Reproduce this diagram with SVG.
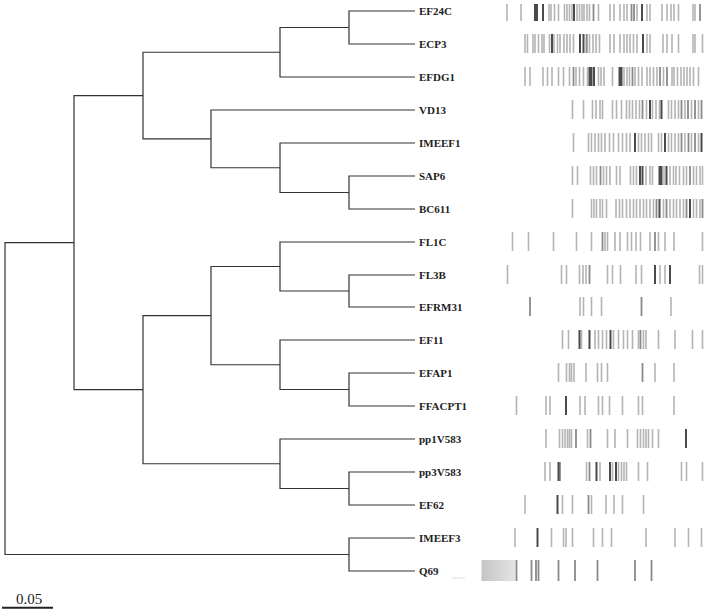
<svg xmlns="http://www.w3.org/2000/svg" width="708" height="611" viewBox="0 0 708 611">
<style>
.t{font-family:"Liberation Serif","Times New Roman",serif;font-weight:bold;font-size:11px;fill:#222}
.e{fill:none;stroke:#333;stroke-width:1.2}
.l{fill:none;stroke:#b4b4b4;stroke-width:1.6}
.m{fill:none;stroke:#8a8a8a;stroke-width:1.8}
.d{fill:none;stroke:#4a4a4a;stroke-width:2}
</style>
<defs>
<linearGradient id="gr" x1="0" x2="1" y1="0" y2="0"><stop offset="0" stop-color="#c4c4c4"/><stop offset="1" stop-color="#e4e4e4"/></linearGradient>
</defs>
<rect width="708" height="611" fill="#fff"/>
<g id="connectors">
<path class="e" d="M415 11H349V44H415"/>
<path class="e" d="M349 27.5H280V77H415"/>
<path class="e" d="M415 176H349V209H415"/>
<path class="e" d="M415 143H280V192.5H349"/>
<path class="e" d="M415 110H211V167.75H280"/>
<path class="e" d="M280 52.25H143V138.9H211"/>
<path class="e" d="M415 275H349V307H415"/>
<path class="e" d="M415 242H280V291H349"/>
<path class="e" d="M415 373H349V406H415"/>
<path class="e" d="M415 340H280V389.5H349"/>
<path class="e" d="M280 266.5H211V364.75H280"/>
<path class="e" d="M415 472H349V505H415"/>
<path class="e" d="M415 439H280V488.5H349"/>
<path class="e" d="M211 315.6H143V463.75H280"/>
<path class="e" d="M143 95.6H74V389.7H143"/>
<path class="e" d="M415 538H349V571H415"/>
<path class="e" d="M74 242.6H5V554.5H349"/>
</g>
<g id="EF24C" transform="translate(0,11)">
<text class="t" x="419" y="4">EF24C</text>
<path class="l" d="M507 -7v17M521 -7v17M549 -7v17M551 -7v17M554.5 -7v17M558.5 -7v17M564.5 -7v17M567 -7v17M569.5 -7v17M572 -7v17M577 -7v17M579.5 -7v17M582 -7v17M584 -7v17M587 -7v17M589.5 -7v17M598.5 -7v17M610 -7v17M614 -7v17M620 -7v17M624 -7v17M627 -7v17M637 -7v17M647 -7v17M650 -7v17M662 -7v17M667 -7v17M671 -7v17M674 -7v17M678.5 -7v17M693 -7v17M695 -7v17"/>
<path class="m" d="M593.5 -7v17M631.5 -7v17M634 -7v17M700 -7v17"/>
<path class="d" d="M535 -7v17M537 -7v17M543 -7v17M574 -7v17M642 -7v17"/>
</g>
<g id="ECP3" transform="translate(0,44)">
<text class="t" x="419" y="4">ECP3</text>
<path class="l" d="M525 -10v19M527.5 -10v19M533 -10v19M535 -10v19M538.5 -10v19M542 -10v19M544 -10v19M549.5 -10v19M554 -10v19M557.5 -10v19M560 -10v19M564 -10v19M567 -10v19M570 -10v19M573.5 -10v19M587 -10v19M589.5 -10v19M593 -10v19M596 -10v19M599.5 -10v19M610 -10v19M614 -10v19M620 -10v19M624 -10v19M627 -10v19M630 -10v19M633.5 -10v19M637 -10v19M647 -10v19M650 -10v19M663 -10v19M667 -10v19M672 -10v19M678.5 -10v19M693 -10v19M695 -10v19M702.5 -10v19"/>
<path class="m" d="M586.5 -10v19"/>
<path class="d" d="M552 -10v19M580 -10v19M583.5 -10v19M643 -10v19"/>
</g>
<g id="EFDG1" transform="translate(0,77)">
<text class="t" x="419" y="4">EFDG1</text>
<path class="l" d="M525 -10v19M530 -10v19M543 -10v19M547.5 -10v19M552 -10v19M558.5 -10v19M563.5 -10v19M569.5 -10v19M576 -10v19M579.5 -10v19M583.5 -10v19M587.5 -10v19M598.5 -10v19M601 -10v19M604 -10v19M612.5 -10v19M624 -10v19M627 -10v19M629.5 -10v19M635 -10v19M638.5 -10v19M642 -10v19M647 -10v19M650 -10v19M653.5 -10v19M657 -10v19M663.5 -10v19M672 -10v19M674 -10v19M677.5 -10v19M681 -10v19M684 -10v19M687 -10v19M690 -10v19M693.5 -10v19M698.5 -10v19"/>
<path class="m" d="M573.5 -10v19M632.5 -10v19M660 -10v19M667 -10v19"/>
<path class="d" d="M589.5 -10v19M591.5 -10v19M594 -10v19M619.5 -10v19M621.5 -10v19"/>
</g>
<g id="VD13" transform="translate(0,110)">
<text class="t" x="419" y="4">VD13</text>
<path class="l" d="M572.5 -10v19M583.5 -10v19M592.5 -10v19M596 -10v19M600 -10v19M602.5 -10v19M612.5 -10v19M616.5 -10v19M621.5 -10v19M626.5 -10v19M629.5 -10v19M632.5 -10v19M636 -10v19M639.5 -10v19M646.5 -10v19M652.5 -10v19M656 -10v19M659.5 -10v19M668.5 -10v19M671.5 -10v19M675 -10v19M678.5 -10v19M685 -10v19M691.5 -10v19M698.5 -10v19"/>
<path class="m" d="M642.5 -10v19M681.5 -10v19M688 -10v19M695 -10v19M701.5 -10v19"/>
<path class="d" d="M650 -10v19M661.5 -10v19"/>
</g>
<g id="IMEEF1" transform="translate(0,143)">
<text class="t" x="419" y="4">IMEEF1</text>
<path class="l" d="M573.5 -10v19M588.5 -10v19M591.5 -10v19M595 -10v19M598.5 -10v19M601.5 -10v19M605 -10v19M609.5 -10v19M613.5 -10v19M618.5 -10v19M622.5 -10v19M626.5 -10v19M630 -10v19M638.5 -10v19M641.5 -10v19M645 -10v19M648.5 -10v19M651.5 -10v19M658.5 -10v19M661.5 -10v19M668.5 -10v19M671.5 -10v19M675 -10v19M678.5 -10v19M685 -10v19M691.5 -10v19M698.5 -10v19"/>
<path class="m" d="M681.5 -10v19M688.5 -10v19M695 -10v19"/>
<path class="d" d="M635 -10v19M665 -10v19M701.5 -10v19"/>
</g>
<g id="SAP6" transform="translate(0,176)">
<text class="t" x="419" y="4">SAP6</text>
<path class="l" d="M572.5 -10v19M577.5 -10v19M590.5 -10v19M593.5 -10v19M596.5 -10v19M603.5 -10v19M606.5 -10v19M610 -10v19M616.5 -10v19M620 -10v19M630.5 -10v19M633.5 -10v19M636.5 -10v19M646 -10v19M650 -10v19M652.5 -10v19M664 -10v19M670 -10v19M673.5 -10v19M676 -10v19M679.5 -10v19M683.5 -10v19M686.5 -10v19M693.5 -10v19M696.5 -10v19M700 -10v19M702.5 -10v19"/>
<path class="m" d="M600.5 -10v19M690 -10v19"/>
<path class="d" d="M640 -10v19M642.5 -10v19M659.5 -10v19M661.5 -10v19M666.5 -10v19"/>
</g>
<g id="BC611" transform="translate(0,209)">
<text class="t" x="419" y="4">BC611</text>
<path class="l" d="M572.5 -10v19M591.5 -10v19M594 -10v19M596.5 -10v19M600 -10v19M602.5 -10v19M606.5 -10v19M616 -10v19M619.5 -10v19M622.5 -10v19M626.5 -10v19M630 -10v19M633.5 -10v19M636.5 -10v19M640 -10v19M643.5 -10v19M646.5 -10v19M650 -10v19M653.5 -10v19M663.5 -10v19M670 -10v19M673.5 -10v19M676.5 -10v19M680 -10v19M683.5 -10v19M693.5 -10v19M696.5 -10v19M700 -10v19"/>
<path class="m" d="M656.5 -10v19M666.5 -10v19M686.5 -10v19M702.5 -10v19"/>
<path class="d" d="M659.5 -10v19M690 -10v19"/>
</g>
<g id="FL1C" transform="translate(0,242)">
<text class="t" x="419" y="4">FL1C</text>
<path class="l" d="M512.5 -10v19M528.5 -10v19M553.5 -10v19M576.5 -10v19M591.5 -10v19M605 -10v19M607.5 -10v19M615 -10v19M620 -10v19M627.5 -10v19M631.5 -10v19M636 -10v19M640.5 -10v19M650 -10v19M658.5 -10v19M665 -10v19M674 -10v19M702.5 -10v19"/>
<path class="m" d="M602.5 -10v19M655 -10v19"/>
</g>
<g id="FL3B" transform="translate(0,275)">
<text class="t" x="419" y="4">FL3B</text>
<path class="l" d="M507.5 -10v19M561.5 -10v19M566.5 -10v19M579.5 -10v19M583 -10v19M586 -10v19M607.5 -10v19M612.5 -10v19M620.5 -10v19M636 -10v19M641.5 -10v19M660 -10v19M665 -10v19M699.5 -10v19M702.5 -10v19"/>
<path class="m" d="M589.5 -10v19"/>
<path class="d" d="M655 -10v19M670 -10v19"/>
</g>
<g id="EFRM31" transform="translate(0,307)">
<text class="t" x="419" y="4">EFRM31</text>
<path class="l" d="M580 -10v19M583.5 -10v19M591.5 -10v19M601.5 -10v19M671 -10v19"/>
<path class="m" d="M530 -10v19M641.5 -10v19"/>
</g>
<g id="EF11" transform="translate(0,340)">
<text class="t" x="419" y="4">EF11</text>
<path class="l" d="M562.5 -10v19M568.5 -10v19M581.5 -10v19M595 -10v19M598.5 -10v19M602.5 -10v19M606.5 -10v19M613.5 -10v19M618.5 -10v19M623.5 -10v19M627.5 -10v19M632.5 -10v19M638.5 -10v19M643.5 -10v19M646 -10v19M658.5 -10v19M675 -10v19M692.5 -10v19M702.5 -10v19"/>
<path class="m" d="M640.5 -10v19"/>
<path class="d" d="M579.5 -10v19M589.5 -10v19M610.5 -10v19"/>
</g>
<g id="EFAP1" transform="translate(0,373)">
<text class="t" x="419" y="4">EFAP1</text>
<path class="l" d="M558.5 -10v19M566.5 -10v19M569.5 -10v19M571.5 -10v19M574 -10v19M586 -10v19M597.5 -10v19M601.5 -10v19M607.5 -10v19M655 -10v19M674 -10v19"/>
<path class="m" d="M642.5 -10v19"/>
</g>
<g id="FFACPT1" transform="translate(0,406)">
<text class="t" x="419" y="4">FFACPT1</text>
<path class="l" d="M516.5 -10v19M546 -10v19M550 -10v19M580 -10v19M585 -10v19M598.5 -10v19M602.5 -10v19M609.5 -10v19M622.5 -10v19M638.5 -10v19M642.5 -10v19M674 -10v19"/>
<path class="d" d="M566 -10v19"/>
</g>
<g id="pp1V583" transform="translate(0,439)">
<text class="t" x="419" y="4">pp1V583</text>
<path class="l" d="M546 -10v19M559.5 -10v19M562.5 -10v19M565 -10v19M567.5 -10v19M569.5 -10v19M571.5 -10v19M587.5 -10v19M607.5 -10v19M615 -10v19M627.5 -10v19M637.5 -10v19M640.5 -10v19M643.5 -10v19M646 -10v19M648.5 -10v19M652.5 -10v19M658.5 -10v19"/>
<path class="m" d="M576 -10v19M590.5 -10v19"/>
<path class="d" d="M686 -10v19"/>
</g>
<g id="pp3V583" transform="translate(0,472)">
<text class="t" x="419" y="4">pp3V583</text>
<path class="l" d="M545 -10v19M550 -10v19M586.5 -10v19M600 -10v19M612.5 -10v19M618.5 -10v19M621.5 -10v19M624 -10v19M626.5 -10v19M638.5 -10v19M647.5 -10v19M681.5 -10v19M686.5 -10v19M702.5 -10v19"/>
<path class="m" d="M560 -10v19M589.5 -10v19"/>
<path class="d" d="M558.5 -10v19M596.5 -10v19M610 -10v19M616 -10v19"/>
</g>
<g id="EF62" transform="translate(0,505)">
<text class="t" x="419" y="4">EF62</text>
<path class="l" d="M525 -10v19M562.5 -10v19M572.5 -10v19M591.5 -10v19M606 -10v19M614 -10v19M622.5 -10v19M643.5 -10v19"/>
<path class="m" d="M588.5 -10v19"/>
<path class="d" d="M557.5 -10v19"/>
</g>
<g id="IMEEF3" transform="translate(0,538)">
<text class="t" x="419" y="4">IMEEF3</text>
<path class="l" d="M515 -10v19M551.5 -10v19M563.5 -10v19M566 -10v19M572.5 -10v19M593.5 -10v19M602.5 -10v19M611.5 -10v19M646 -10v19M675 -10v19M688.5 -10v19M701.5 -10v19"/>
<path class="d" d="M537.5 -10v19"/>
</g>
<g id="Q69" transform="translate(0,571)">
<text class="t" x="419" y="4">Q69</text>
<rect x="481.5" y="-11" width="34" height="21" fill="url(#gr)"/>
<path d="M452 7H465" stroke="#e2e2e2" stroke-width="1.2"/>
<path class="m" d="M516.5 -11v21M531.5 -11v21M536 -11v21M538.5 -11v21M558.5 -11v21M575 -11v21M597.5 -11v21M635 -11v21M651.5 -11v21"/>
</g>
<g id="scale">
<text x="16" y="604" font-family="Liberation Serif, serif" font-size="15" fill="#222">0.05</text>
<path d="M2 607.7H53" stroke="#222" stroke-width="2"/>
</g>
</svg>
